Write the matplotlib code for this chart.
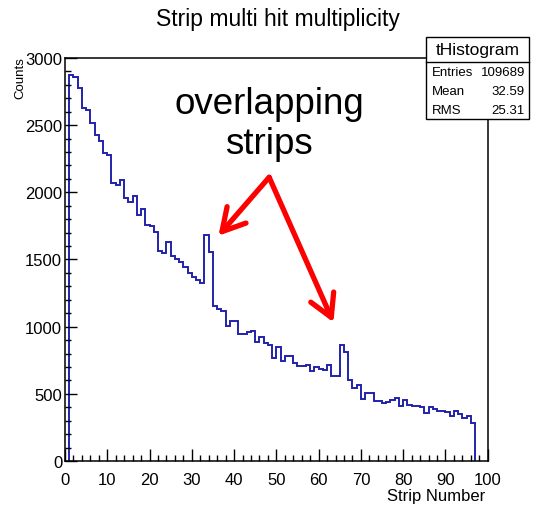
import numpy as np
import matplotlib
matplotlib.use("Agg")
import matplotlib.pyplot as plt
from matplotlib.patches import Rectangle
from matplotlib.ticker import MultipleLocator

plt.rcParams['font.family'] = ['Liberation Sans', 'DejaVu Sans']

# strip number bins (1..96, width 1) and counts
strip_edges = np.arange(1, 98)
counts = [2870, 2855, 2780, 2625, 2613, 2516, 2429, 2384, 2290, 2280,
          2069, 2057, 2094, 1956, 1926, 1975, 1834, 1876, 1759, 1747,
          1707, 1565, 1548, 1628, 1524, 1504, 1479, 1446, 1400, 1367,
          1350, 1323, 1685, 1554, 1156, 1131, 1119, 1007, 1040, 1040,
          945, 945, 958, 965, 884, 921, 878, 866, 767, 846,
          742, 784, 784, 730, 709, 709, 717, 668, 698, 685,
          680, 717, 630, 635, 865, 811, 604, 545, 563, 461,
          506, 506, 449, 449, 432, 441, 456, 469, 412, 454,
          417, 412, 412, 399, 357, 404, 387, 374, 374, 367,
          337, 370, 350, 318, 333, 283]

stats_names = ["Entries", "Mean", "RMS"]
stats_values = ["109689", "32.59", "25.31"]

fig = plt.figure(figsize=(5.43, 5.06), dpi=100)
ax = fig.add_axes([0.1197, 0.0870, 0.7785, 0.7964])

ax.stairs(counts, strip_edges, baseline=0, color="#2222aa", linewidth=1.4)

ax.set_xlim(0, 100)
ax.set_ylim(0, 3000)
ax.xaxis.set_major_locator(MultipleLocator(10))
ax.xaxis.set_minor_locator(MultipleLocator(2))
ax.yaxis.set_major_locator(MultipleLocator(500))
ax.yaxis.set_minor_locator(MultipleLocator(100))
ax.tick_params(which="both", direction="in", top=False, right=False, width=1)
ax.tick_params(which="major", length=8.5, labelsize=12)
ax.tick_params(axis="x", which="major", pad=8)
ax.tick_params(axis="y", which="major", pad=2)
ax.tick_params(which="minor", length=4.3)
for s in ax.spines.values():
    s.set_linewidth(1.1)

fig.text(0.511, 0.962, "Strip multi hit multiplicity", ha="center", va="center", fontsize=16.5)
fig.text(20 / 543, 1 - 57 / 506, "Counts", rotation=90, ha="center", va="top", fontsize=9.5)
fig.text(485 / 543, 1 - 504 / 506, "Strip Number", ha="right", va="bottom", fontsize=12)

# overlapping strips annotation
ax.text(48.3, (462 - 87) * 3000 / 403, "overlapping\nstrips", ha="center", va="top",
        fontsize=26.5, linespacing=1.2)
for tip in [(36.3, 1677), (63.5, 1032)]:
    ax.annotate("", xy=tip, xytext=(48.3, 2112),
                arrowprops=dict(arrowstyle="->, head_length=0.8, head_width=0.45",
                                mutation_scale=20, color="#ff0000", lw=3.8,
                                shrinkA=0, shrinkB=0))

# stats box
L, R, T, B = 426 / 543, 529 / 543, 1 - 38 / 506, 1 - 120 / 506
fig.patches.append(Rectangle((L, B), R - L, T - B, transform=fig.transFigure,
                             facecolor="white", edgecolor="black", linewidth=1, zorder=5))
fig.lines.append(plt.Line2D([L, R], [1 - 63 / 506] * 2, transform=fig.transFigure,
                            color="black", linewidth=1, zorder=6))
fig.text((L + R) / 2, 1 - 51 / 506, "tHistogram", ha="center", va="center", fontsize=12.5, zorder=7)
for i, (n, v) in enumerate(zip(stats_names, stats_values)):
    yy = 1 - (73 + 19 * i) / 506
    fig.text(432 / 543, yy, n, ha="left", va="center", fontsize=9.5, zorder=7)
    fig.text(525 / 543, yy, v, ha="right", va="center", fontsize=9.5, zorder=7)

fig.savefig("out.png", dpi=100)
